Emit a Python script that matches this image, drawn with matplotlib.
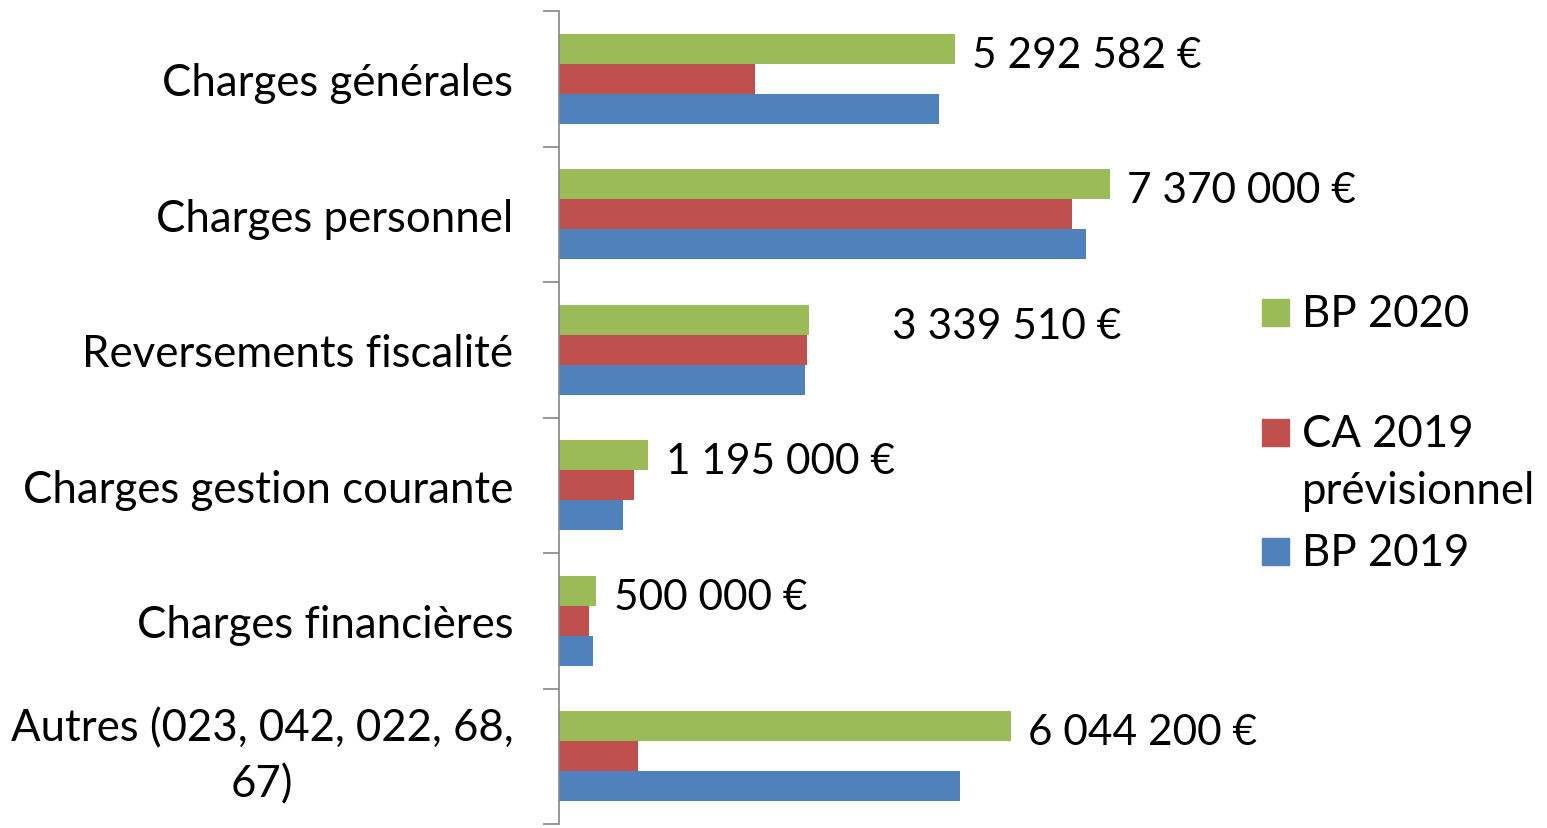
import matplotlib.pyplot as plt
from matplotlib.patches import Rectangle
import numpy as np

# data (euros)
categories = ["Charges générales", "Charges personnel", "Reversements fiscalité",
              "Charges gestion courante", "Charges financières",
              "Autres (023, 042, 022, 68,\n67)"]
series_names = ["BP 2020", "CA 2019\nprévisionnel", "BP 2019"]
bp2020 = [5292582, 7370000, 3339510, 1195000, 500000, 6044200]
ca2019 = [2620000, 6860000, 3320000, 1000000, 400000, 1060000]
bp2019 = [5080000, 7050000, 3290000, 860000, 450000, 5360000]
label_shift = [0, 0, 880000, 0, 0, 0]  # Excel put the fiscalité label further out

colors = ["#9BBB59", "#C0504D", "#4F81BD"]

plt.rcParams['font.family'] = ['Lato', 'DejaVu Sans']
fs = 31.5

W, H = 1547, 829
fig = plt.figure(figsize=(W / 100, H / 100), dpi=100)
# axes placed in pixel terms: left spine at x=559, top 12, bottom 825
ax = fig.add_axes([559 / W, 1 - 825 / H, 673 / W, (825 - 12) / H])

y = np.arange(len(categories))
h = 0.2214
for k, vals in enumerate([bp2020, ca2019, bp2019]):
    ax.barh(y + (k - 1) * h, vals, height=h, color=colors[k], linewidth=0)

def fmt(v):
    return f"{v:,}".replace(",", " ") + " €"

for i, v in enumerate(bp2020):
    ax.text(v + 230000 + label_shift[i], y[i] - h + 0.02, fmt(v), va='center_baseline',
            ha='left', fontsize=fs - 1)

ax.set_xlim(0, 9000000)
ax.set_ylim(len(categories) - 0.5, -0.5)
ax.set_yticks(np.arange(len(categories) + 1) - 0.5, minor=False)
ax.set_yticklabels([])
ax.set_yticks(y, minor=True)
ax.set_yticklabels(categories, minor=True, fontsize=fs)
for lab in ax.get_yticklabels(minor=True):
    if "\n" in lab.get_text():
        lab.set_multialignment('center')
        lab.set_linespacing(1.45)
        lab.set_va('center')
ax.tick_params(axis='y', which='major', length=11.5, width=1.2, color='#868686', direction='out')
ax.tick_params(axis='y', which='minor', length=0, pad=33)
ax.set_xticks([])
for s in ['top', 'right', 'bottom']:
    ax.spines[s].set_visible(False)
ax.spines['left'].set_color('#868686')
ax.spines['left'].set_linewidth(1.2)

# legend drawn by hand so the marker sits on the first text line, like Excel
leg_base = [327, 447, 566]
for k, name in enumerate(series_names):
    yb = leg_base[k]
    fig.patches.append(Rectangle((1262 / W, 1 - yb / H), 27 / W, 27 / H,
                                 transform=fig.transFigure, color=colors[k]))
    for j, line in enumerate(name.split("\n")):
        fig.text(1302 / W, 1 - (yb + 57 * j) / H, line, fontsize=fs, va='baseline', ha='left')

fig.savefig("out.png", dpi=100)
